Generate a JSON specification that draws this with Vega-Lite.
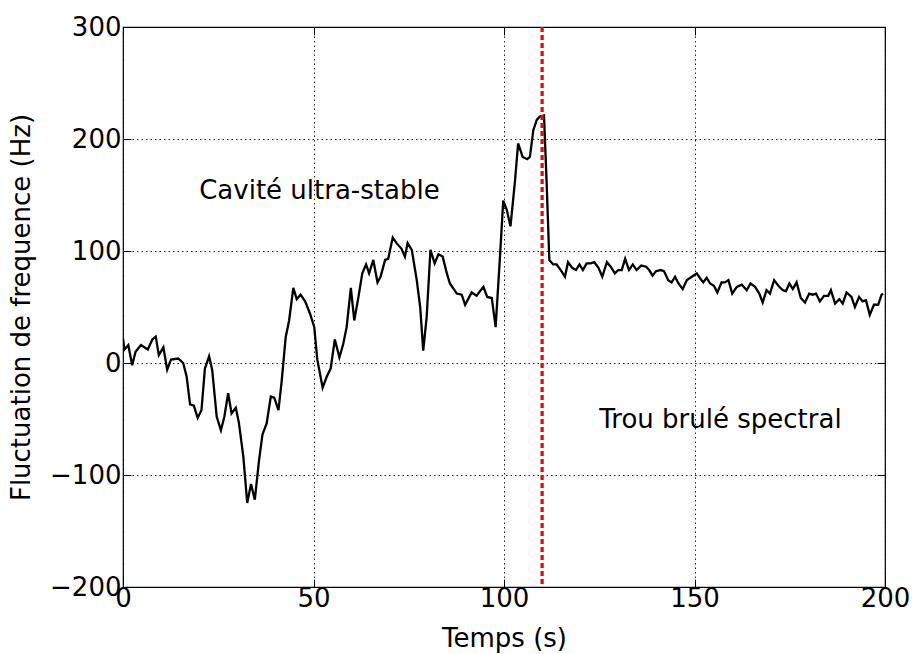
{
  "$schema": "https://vega.github.io/schema/vega-lite/v6.json",
  "width": 762,
  "height": 560,
  "autosize": {"type": "none"},
  "padding": {"left": 123, "top": 27, "right": 27, "bottom": 67},
  "background": "white",
  "config": {
    "view": {"stroke": "black", "strokeWidth": 1.2},
    "font": "DejaVu Sans",
    "axis": {
      "labelFont": "DejaVu Sans",
      "titleFont": "DejaVu Sans",
      "labelFontSize": 26,
      "titleFontSize": 26,
      "titleFontWeight": "normal",
      "labelColor": "black",
      "titleColor": "black",
      "domainColor": "black",
      "tickColor": "black",
      "tickSize": -8,
      "tickWidth": 1,
      "labelFlush": false,
      "labelOverlap": false,
      "gridColor": "black",
      "gridOpacity": 0.85,
      "gridDash": [1.5, 3],
      "gridWidth": 1
    }
  },
  "datasets": {
    "series": [
      {"t":0,"v":22},{"t":0.4,"v":12},{"t":1.4,"v":16},{"t":2.4,"v":-2},{"t":3.3,"v":10},{"t":4.7,"v":16},{"t":6.5,"v":12},{"t":7.7,"v":21},{"t":8.6,"v":23.5},{"t":9.4,"v":7},{"t":10.6,"v":14},{"t":11.6,"v":-6},{"t":12.6,"v":3},{"t":14.5,"v":4},{"t":15.8,"v":0},{"t":16.7,"v":-12},{"t":17.6,"v":-37},{"t":18.6,"v":-38},{"t":19.6,"v":-49},{"t":20.6,"v":-42},{"t":21.5,"v":-5},{"t":22.6,"v":6},{"t":23.4,"v":-6},{"t":24.6,"v":-48},{"t":25.7,"v":-60},{"t":26.6,"v":-48},{"t":27.6,"v":-27},{"t":28.5,"v":-45},{"t":29.6,"v":-40},{"t":30.4,"v":-53},{"t":31.6,"v":-84},{"t":32.6,"v":-125},{"t":33.6,"v":-108},{"t":34.6,"v":-122},{"t":35.7,"v":-87},{"t":36.6,"v":-64},{"t":37.7,"v":-54},{"t":38.8,"v":-30},{"t":39.7,"v":-31},{"t":40.8,"v":-42},{"t":41.6,"v":-18},{"t":42.7,"v":23},{"t":43.6,"v":38},{"t":44.7,"v":67},{"t":45.6,"v":57},{"t":46.6,"v":61},{"t":47.8,"v":55},{"t":49.1,"v":44},{"t":50.2,"v":32},{"t":51,"v":3},{"t":52.4,"v":-22},{"t":53.5,"v":-12},{"t":54.5,"v":-5},{"t":55.6,"v":21},{"t":56.8,"v":5},{"t":57.8,"v":17},{"t":58.7,"v":32},{"t":59.8,"v":67},{"t":60.7,"v":38},{"t":61.8,"v":59},{"t":62.8,"v":80},{"t":63.8,"v":88},{"t":64.6,"v":80},{"t":65.7,"v":92},{"t":66.8,"v":72},{"t":67.6,"v":77},{"t":68.8,"v":92},{"t":69.6,"v":93},{"t":70.8,"v":112},{"t":71.8,"v":107},{"t":73.1,"v":102},{"t":74,"v":95},{"t":74.7,"v":107},{"t":75.8,"v":101},{"t":77.1,"v":74},{"t":78,"v":50},{"t":78.8,"v":11},{"t":79.7,"v":41},{"t":80.7,"v":101},{"t":81.8,"v":89},{"t":82.8,"v":97},{"t":83.9,"v":95},{"t":85,"v":80},{"t":85.8,"v":71},{"t":87.6,"v":62},{"t":88.9,"v":61},{"t":89.8,"v":52},{"t":91.5,"v":63},{"t":92.8,"v":60},{"t":94.6,"v":68},{"t":95.6,"v":59},{"t":96.8,"v":58},{"t":97.8,"v":32},{"t":99,"v":98},{"t":99.8,"v":145},{"t":100.7,"v":137},{"t":101.7,"v":122},{"t":102.9,"v":163},{"t":103.7,"v":196},{"t":104.9,"v":184},{"t":106.1,"v":182},{"t":106.8,"v":184},{"t":107.7,"v":208},{"t":108.6,"v":217},{"t":109.4,"v":220},{"t":110.5,"v":221},{"t":111.2,"v":160},{"t":111.9,"v":92},{"t":112.9,"v":88},{"t":113.8,"v":88},{"t":114.9,"v":83},{"t":116,"v":77},{"t":116.8,"v":90},{"t":117.9,"v":85},{"t":118.9,"v":83},{"t":119.8,"v":88},{"t":120.7,"v":83},{"t":121.7,"v":89},{"t":122.8,"v":89},{"t":123.7,"v":90},{"t":124.8,"v":85},{"t":125.8,"v":77},{"t":127,"v":90},{"t":128,"v":86},{"t":129.1,"v":80},{"t":130,"v":83},{"t":130.9,"v":83},{"t":131.8,"v":93},{"t":132.8,"v":83},{"t":133.8,"v":88},{"t":134.8,"v":83},{"t":136,"v":87},{"t":137.3,"v":86},{"t":138.1,"v":83},{"t":139,"v":78},{"t":139.9,"v":82},{"t":141.1,"v":83},{"t":142,"v":82},{"t":143.1,"v":74},{"t":144,"v":72},{"t":144.9,"v":77},{"t":145.8,"v":71},{"t":146.9,"v":66},{"t":148,"v":74},{"t":149.3,"v":77},{"t":150.6,"v":80},{"t":151.6,"v":75},{"t":152.3,"v":72},{"t":153.2,"v":76},{"t":154.1,"v":71},{"t":155.1,"v":69},{"t":156,"v":63},{"t":157.1,"v":72},{"t":158,"v":72},{"t":158.9,"v":74},{"t":159.9,"v":62},{"t":161.1,"v":68},{"t":162.4,"v":70},{"t":163.7,"v":65},{"t":164.7,"v":71},{"t":165.9,"v":68},{"t":167,"v":62},{"t":167.9,"v":54},{"t":168.9,"v":65},{"t":169.8,"v":62},{"t":170.9,"v":74},{"t":172,"v":69},{"t":173.2,"v":65},{"t":174,"v":64},{"t":174.9,"v":71},{"t":175.8,"v":66},{"t":176.8,"v":72},{"t":177.9,"v":58},{"t":179,"v":54},{"t":180.1,"v":62},{"t":181,"v":61},{"t":181.9,"v":62},{"t":182.9,"v":55},{"t":184,"v":60},{"t":185.1,"v":60},{"t":185.8,"v":65},{"t":186.9,"v":53},{"t":188,"v":57},{"t":188.9,"v":53},{"t":189.9,"v":63},{"t":191.2,"v":59},{"t":192.1,"v":50},{"t":193.2,"v":59},{"t":194.1,"v":55},{"t":195,"v":56},{"t":196,"v":43},{"t":197.1,"v":52},{"t":198.2,"v":52},{"t":199.1,"v":61},{"t":199.5,"v":62}
    ],
    "labels": [
      {"t": 20, "v": 154, "label": "Cavité ultra-stable"},
      {"t": 125, "v": -51, "label": "Trou brulé spectral"}
    ],
    "marker": [{"t": 110}]
  },
  "layer": [
    {
      "data": {"name": "series"},
      "mark": {"type": "line", "color": "black", "strokeWidth": 2.3, "clip": true},
      "encoding": {
        "x": {"field": "t", "type": "quantitative", "scale": {"domain": [0, 200], "nice": false, "zero": false, "padding": 0},
          "axis": {"orient": "bottom", "title": "Temps (s)", "values": [0, 50, 100, 150, 200], "grid": true, "labelPadding": 6, "titlePadding": 14, "domain": false}},
        "y": {"field": "v", "type": "quantitative", "scale": {"domain": [-200, 300], "nice": false, "zero": false, "padding": 0},
          "axis": {"orient": "left", "title": "Fluctuation de frequence (Hz)", "values": [-200, -100, 0, 100, 200, 300], "grid": true, "labelPadding": 10, "titlePadding": 15, "domain": false}}
      }
    },
    {
      "data": {"name": "marker"},
      "mark": {"type": "rule", "color": "#ff0000", "strokeWidth": 3.3, "strokeDash": [5, 3]},
      "encoding": {
        "x": {"field": "t", "type": "quantitative", "scale": {"domain": [0, 200], "nice": false, "zero": false, "padding": 0}, "axis": null}
      }
    },
    {
      "data": {"name": "labels"},
      "mark": {"type": "text", "align": "left", "baseline": "middle", "fontSize": 26, "font": "DejaVu Sans", "color": "black"},
      "encoding": {
        "x": {"field": "t", "type": "quantitative", "scale": {"domain": [0, 200], "nice": false, "zero": false, "padding": 0},
          "axis": {"orient": "top", "title": null, "labels": false, "grid": false, "values": [0, 50, 100, 150, 200], "domain": false}},
        "y": {"field": "v", "type": "quantitative", "scale": {"domain": [-200, 300], "nice": false, "zero": false, "padding": 0},
          "axis": {"orient": "right", "title": null, "labels": false, "grid": false, "values": [-200, -100, 0, 100, 200, 300], "domain": false}},
        "text": {"field": "label"}
      }
    }
  ],
  "resolve": {"axis": {"x": "independent", "y": "independent"}}
}
